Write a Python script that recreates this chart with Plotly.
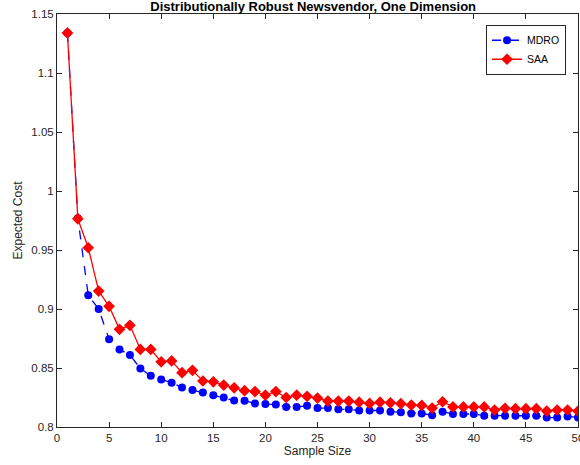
import plotly.graph_objects as go

sample_size = list(range(1, 51))
mdro = [1.134, 0.977, 0.9116, 0.900, 0.8744, 0.8657, 0.861, 0.8496, 0.8434, 0.8403,
        0.8375, 0.8335, 0.8313, 0.8293, 0.827, 0.825, 0.8225, 0.8222, 0.820, 0.8194,
        0.819, 0.817, 0.817, 0.818, 0.816, 0.816, 0.815, 0.815, 0.814, 0.814,
        0.814, 0.813, 0.8125, 0.8115, 0.8115, 0.810, 0.813, 0.811, 0.811, 0.811,
        0.8096, 0.8095, 0.8096, 0.8096, 0.8096, 0.8095, 0.808, 0.808, 0.809, 0.808]
saa = [1.134, 0.9764, 0.9519, 0.9152, 0.9023, 0.8828, 0.8862, 0.8657, 0.8657, 0.8552,
       0.856, 0.846, 0.848, 0.839, 0.8383, 0.8355, 0.8332, 0.8308, 0.830, 0.827,
       0.830, 0.825, 0.827, 0.826, 0.8245, 0.822, 0.822, 0.822, 0.821, 0.820,
       0.821, 0.8205, 0.8198, 0.8186, 0.8183, 0.816, 0.8214, 0.817, 0.817, 0.817,
       0.817, 0.8144, 0.8158, 0.8155, 0.8155, 0.8155, 0.8135, 0.8144, 0.8144, 0.8135]

x_ticks = [0, 5, 10, 15, 20, 25, 30, 35, 40, 45, 50]
y_ticks = [0.8, 0.85, 0.9, 0.95, 1.0, 1.05, 1.1, 1.15]
y_tick_labels = ["0.8", "0.85", "0.9", "0.95", "1", "1.05", "1.1", "1.15"]

FONT = "Liberation Sans, Arial, Helvetica"

fig = go.Figure()
fig.add_trace(go.Scatter(
    x=sample_size, y=mdro, name="MDRO", mode="lines+markers",
    line=dict(color="#0000ff", width=1.3, dash="dash"),
    marker=dict(symbol="circle", size=8, color="#0000ff"),
))
fig.add_trace(go.Scatter(
    x=sample_size, y=saa, name="SAA", mode="lines+markers",
    line=dict(color="#ff0000", width=1.3),
    marker=dict(symbol="diamond", size=9, color="#ff0000"),
))

axis_common = dict(
    showline=True, linecolor="#262626", linewidth=1, mirror="ticks",
    ticks="inside", ticklen=5, tickcolor="#262626", showgrid=False, zeroline=False,
    automargin=False,
    tickfont=dict(family=FONT, size=11.5, color="#262626"),
)

fig.update_layout(
    width=580, height=465,
    margin=dict(l=57, r=2, t=14, b=38),
    paper_bgcolor="white", plot_bgcolor="white",
    title=dict(text="<b>Distributionally Robust Newsvendor, One Dimension</b>",
               x=0.54, xanchor="center", y=0.995, yanchor="top",
               font=dict(family=FONT, size=13, color="black")),
    xaxis=dict(range=[0, 50], tickvals=x_ticks, ticklabeloverflow="allow",
               title=dict(text="Sample Size", standoff=0,
                          font=dict(family=FONT, size=12, color="#262626")),
               **axis_common),
    yaxis=dict(range=[0.8, 1.15], tickvals=y_ticks, ticktext=y_tick_labels,
               title=dict(text="Expected Cost", standoff=6,
                          font=dict(family=FONT, size=12, color="#262626")),
               **axis_common),
    legend=dict(x=0.977, xanchor="right", y=0.974, yanchor="top",
                bgcolor="white", bordercolor="#262626", borderwidth=1,
                font=dict(family=FONT, size=10.5, color="black"),
                tracegroupgap=0, itemwidth=30),
    showlegend=True,
)

fig.write_html("out.html", config={"displayModeBar": False},
               post_script="document.body.style.margin='0';")
